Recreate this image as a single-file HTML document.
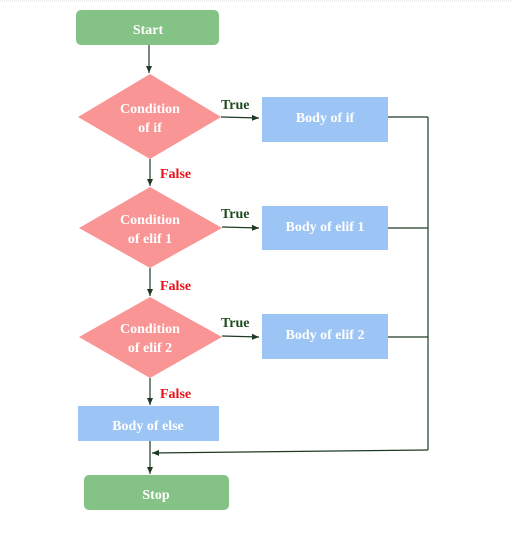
<!DOCTYPE html>
<html><head><style>
html,body{margin:0;padding:0;background:#fff;width:512px;height:540px;overflow:hidden}
</style></head><body>
<svg width="512" height="540" viewBox="0 0 512 540" xmlns="http://www.w3.org/2000/svg" font-family="Liberation Serif, serif" font-weight="bold">
<defs><marker id="a" markerWidth="8" markerHeight="8" refX="7" refY="4" orient="auto" markerUnits="userSpaceOnUse"><path d="M0,1 L7,4 L0,7z" fill="#1e3a24"/></marker></defs>
<line x1="0" y1="1" x2="512" y2="1" stroke="#ddd" stroke-dasharray="1,1"/>
<rect x="76" y="10" width="143" height="35" rx="5" fill="#85c285"/>
<polygon points="150,74 221,117 150,159 78,117" fill="#f99595"/>
<polygon points="150,187 222,228 150,268 79,228" fill="#f99595"/>
<polygon points="150,297 222,337 150,378 79,337" fill="#f99595"/>
<rect x="262" y="97" width="126" height="45" fill="#9cc4f4"/>
<rect x="262" y="206" width="126" height="44" fill="#9cc4f4"/>
<rect x="262" y="314" width="126" height="45" fill="#9cc4f4"/>
<rect x="78" y="406" width="141" height="35" fill="#9cc4f4"/>
<rect x="84" y="475" width="145" height="35" rx="5" fill="#85c285"/>
<g stroke="#1e3a24" stroke-width="1.2" fill="none">
<line x1="149" y1="45" x2="149" y2="73" marker-end="url(#a)"/>
<line x1="150" y1="159" x2="150" y2="186" marker-end="url(#a)"/>
<line x1="150" y1="268" x2="150" y2="296" marker-end="url(#a)"/>
<line x1="150" y1="378" x2="150" y2="405" marker-end="url(#a)"/>
<line x1="150" y1="441" x2="150" y2="474" marker-end="url(#a)"/>
<line x1="221" y1="117" x2="259" y2="118" marker-end="url(#a)"/>
<line x1="222" y1="227" x2="259" y2="228" marker-end="url(#a)"/>
<line x1="222" y1="336" x2="259" y2="337" marker-end="url(#a)"/>
<line x1="388" y1="117" x2="428" y2="117"/>
<line x1="388" y1="228" x2="428" y2="228"/>
<line x1="388" y1="337" x2="428" y2="337"/>
<line x1="428" y1="117" x2="428" y2="450"/>
<polyline points="428,450 152,453" marker-end="url(#a)"/>
</g>
<g fill="#fff" font-size="14" text-anchor="middle">
<text x="148" y="34">Start</text>
<text x="150" y="113">Condition</text><text x="150" y="132">of if</text>
<text x="150" y="224">Condition</text><text x="150" y="243">of elif 1</text>
<text x="150" y="333">Condition</text><text x="150" y="352">of elif 2</text>
<text x="325" y="122">Body of if</text>
<text x="325" y="231">Body of elif 1</text>
<text x="325" y="339">Body of elif 2</text>
<text x="148" y="430">Body of else</text>
<text x="156" y="499">Stop</text>
</g>
<g font-size="14">
<text x="221" y="109" fill="#1e4a20">True</text>
<text x="221" y="218" fill="#1e4a20">True</text>
<text x="221" y="327" fill="#1e4a20">True</text>
<text x="160" y="178" fill="#e8121a">False</text>
<text x="160" y="290" fill="#e8121a">False</text>
<text x="160" y="398" fill="#e8121a">False</text>
</g>
</svg>
</body></html>
